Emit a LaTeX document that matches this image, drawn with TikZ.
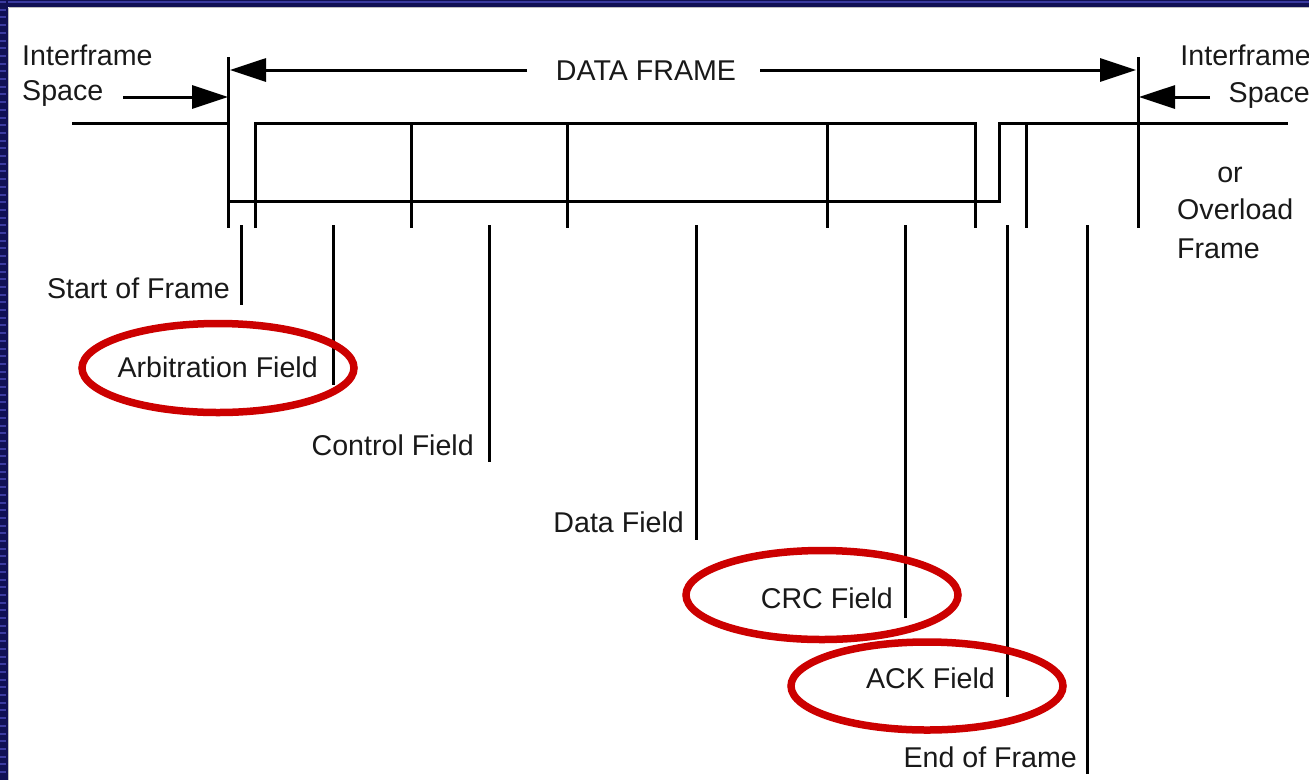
\documentclass[tikz,border=0pt]{standalone}
\usepackage{fontspec}
\setmainfont{Liberation Sans}
\usetikzlibrary{arrows.meta}
\definecolor{navy}{RGB}{16,16,84}
\definecolor{navylight}{RGB}{58,58,160}
\definecolor{circred}{RGB}{204,0,0}
\begin{document}
\begin{tikzpicture}[x=1pt,y=-1pt,
  wire/.style={line width=3pt,black},
  lbl/.style={inner sep=0pt,font=\fontsize{28.6}{34}\selectfont,text=black!90},
  tip/.style={-{Triangle[length=36pt,width=23pt]}},
  ring/.style={line width=7.5pt,circred}]
% background and bounding box
\fill[white] (0,0) rectangle (1309,780);
\useasboundingbox (0,0) rectangle (1309,780);
% navy frame border (left and top)
\fill[navy] (0,0) rectangle (8,780);
\fill[navy] (0,0) rectangle (1309,7);
\foreach \k in {0,...,100} {\fill[navylight] (0,{\k*7.7+1}) rectangle (6,{\k*7.7+3});}
\fill[navylight] (8,1) rectangle (1309,3);
\draw[line width=1pt,black!25] (8.5,7.5) -- (1309,7.5);
\draw[line width=1pt,black!25] (8.5,7.5) -- (8.5,780);

% key coordinates
\coordinate (sofT) at (228,57);
\coordinate (sofB) at (228,228);
\coordinate (ifsT) at (1138,57);
\coordinate (ifsB) at (1138,228);
\coordinate (idleL) at (72,123);
\coordinate (idleJ) at (228,123);
\coordinate (lowL) at (228,201.5);
\coordinate (lowR) at (999,201.5);
\coordinate (ackUp) at (999,123);
\coordinate (idleR) at (1288,123);
\coordinate (hiLB) at (255,228);
\coordinate (hiL) at (255,123);
\coordinate (hiR) at (975,123);
\coordinate (hiRB) at (975,228);

% waveform
\draw[wire] (sofT) -- (sofB);
\draw[wire] (ifsT) -- (ifsB);
\draw[wire] (idleL) -- (idleJ);
\draw[wire] (lowL) -- (lowR) -- (ackUp) -- (idleR);
\draw[wire] (hiLB) -- (hiL) -- (hiR) -- (hiRB);
\foreach \x/\n in {411/a,567/b,827/c,1026/d} {
  \coordinate (d\n T) at (\x,123);
  \coordinate (d\n B) at (\x,228);
  \draw[wire] (d\n T) -- (d\n B);
}

% top labels and arrows
\node[lbl,anchor=base] (df) at (646,80) {DATA FRAME};
\coordinate (dfL) at (230,70);
\coordinate (dfR) at (1136,70);
\coordinate (dfLs) at (527,70);
\coordinate (dfRs) at (760,70);
\draw[wire,tip] (dfLs) -- (dfL);
\draw[wire,tip] (dfRs) -- (dfR);

\node[lbl,anchor=base west] (ifl1) at (22,65) {Interframe};
\node[lbl,anchor=base west] (ifl2) at (22,100) {Space};
\coordinate (iflS) at (123,97);
\coordinate (iflE) at (228,97);
\draw[wire,tip] (iflS) -- (iflE);

\node[lbl,anchor=base east] (ifr1) at (1311,65) {Interframe};
\node[lbl,anchor=base east] (ifr2) at (1310,102) {Space};
\coordinate (ifrS) at (1210,97);
\coordinate (ifrE) at (1139,97);
\draw[wire,tip] (ifrS) -- (ifrE);

\node[lbl,anchor=base] (or) at (1230,182) {or};
\node[lbl,anchor=base west] (ovl) at (1177,219) {Overload};
\node[lbl,anchor=base west] (ovf) at (1177,258) {Frame};

% field labels with leader lines
\foreach \x/\yb/\tx/\bl/\txt/\n in {
  241/305/230/298/Start of Frame/sof,
  333/385/318/377/Arbitration Field/arb,
  489/462/474/455/Control Field/ctl,
  696/540/684/532/Data Field/dat,
  905/618/893/608/CRC Field/crc,
  1007/697/995/688/ACK Field/ack,
  1087/774/1077/767/End of Frame/eof} {
  \coordinate (\n T) at (\x,225);
  \coordinate (\n B) at (\x,\yb);
  \draw[wire] (\n T) -- (\n B);
  \node[lbl,anchor=base east] (\n L) at (\tx,\bl) {\txt};
}

% red highlight ellipses
\draw[ring] (218,368) ellipse [x radius=136pt, y radius=44.5pt];
\draw[ring] (822,595) ellipse [x radius=136pt, y radius=44.5pt];
\draw[ring] (927,686) ellipse [x radius=136pt, y radius=44pt];
\end{tikzpicture}
\end{document}
